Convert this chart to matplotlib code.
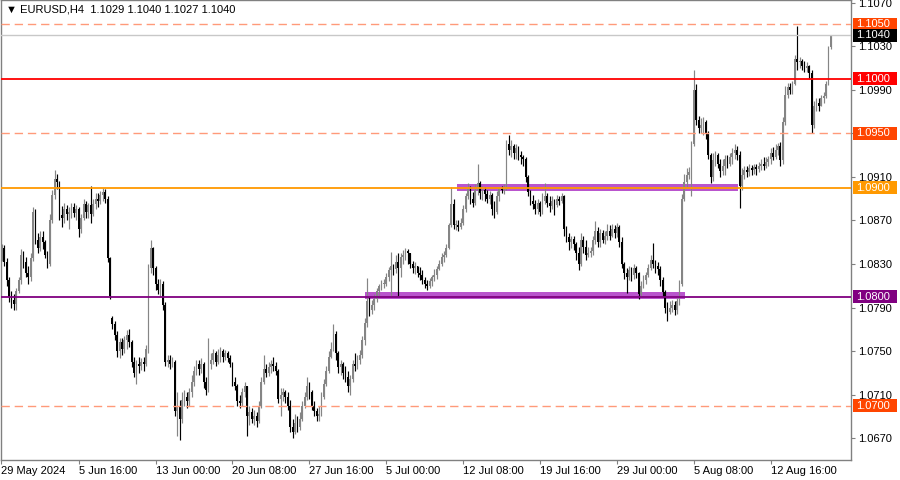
import matplotlib
matplotlib.use('Agg')
import matplotlib.pyplot as plt
import matplotlib.transforms as mtransforms
from matplotlib.patches import Rectangle
import numpy as np

plt.rcParams['font.family'] = ['Liberation Sans', 'DejaVu Sans']

# цены в пунктах: 852 -> 1.0852
closes = [
    852, 840, 845, 832, 815, 800,   # 29 May
    797, 793, 805, 815, 838, 832,   # 30 May
    822, 818, 835, 878, 852, 845,   # 31 May
    855, 850, 838, 830, 870, 893,   # 3 Jun
    908, 905, 875, 872, 880, 876,   # 4 Jun
    878, 882, 877, 880, 862, 872,   # 5 Jun
    885, 878, 884, 876, 885, 890,   # 6 Jun
    888, 893, 896, 890, 835, 801,   # 7 Jun
    775, 765, 750, 758, 752, 760,   # 10 Jun
    765, 758, 740, 730, 738, 736,   # 11 Jun
    740, 738, 752, 826, 845, 826,   # 12 Jun
    812, 806, 812, 792, 740, 742,   # 13 Jun
    738, 740, 695, 700, 688, 705,   # 14 Jun
    708, 704, 712, 722, 732, 738,   # 17 Jun
    734, 738, 722, 714, 738, 742,   # 18 Jun
    748, 740, 746, 750, 745, 748,   # 19 Jun
    744, 738, 722, 718, 704, 702,   # 20 Jun
    712, 718, 690, 694, 688, 690,   # 21 Jun
    686, 700, 722, 734, 730, 735,   # 24 Jun
    738, 736, 732, 706, 710, 712,   # 25 Jun
    708, 700, 680, 676, 684, 680,   # 26 Jun
    688, 700, 708, 718, 712, 700,   # 27 Jun
    695, 690, 692, 708, 720, 732,   # 28 Jun
    745, 752, 766, 748, 735, 738,   # 1 Jul
    730, 726, 718, 724, 738, 736,   # 2 Jul
    742, 746, 760, 776, 796, 788,   # 3 Jul
    792, 798, 805, 810, 812, 812,   # 4 Jul
    818, 824, 828, 825, 832, 826,   # 5 Jul
    836, 838, 842, 840, 830, 826,   # 8 Jul
    828, 822, 820, 815, 812, 810,   # 9 Jul
    814, 818, 820, 825, 830, 836,   # 10 Jul
    838, 845, 866, 885, 866, 866,   # 11 Jul
    864, 868, 880, 892, 900, 890,   # 12 Jul
    886, 898, 904, 895, 898, 894,   # 15 Jul
    890, 893, 880, 878, 892, 899,   # 16 Jul
    898, 900, 940, 935, 938, 932,   # 17 Jul
    936, 930, 928, 926, 910, 896,   # 18 Jul
    888, 885, 880, 886, 878, 888,   # 19 Jul
    892, 886, 883, 888, 884, 890,   # 22 Jul
    888, 892, 862, 855, 850, 853,   # 23 Jul
    848, 840, 830, 852, 846, 838,   # 24 Jul
    840, 842, 852, 860, 850, 858,   # 25 Jul
    852, 856, 860, 856, 862, 858,   # 26 Jul
    864, 850, 830, 822, 818, 824,   # 29 Jul
    820, 826, 822, 802, 810, 815,   # 30 Jul
    820, 826, 834, 830, 828, 825,   # 31 Jul
    815, 804, 790, 786, 790, 792,   # 1 Aug
    788, 796, 812, 890, 905, 912,   # 2 Aug
    914, 940, 990, 962, 955, 958,   # 5 Aug
    960, 950, 930, 910, 925, 930,   # 6 Aug
    922, 915, 920, 926, 922, 928,   # 7 Aug
    932, 935, 930, 902, 912, 916,   # 8 Aug
    914, 918, 916, 919, 917, 920,   # 9 Aug
    922, 920, 924, 926, 932, 928,   # 12 Aug
    935, 938, 925, 960, 985, 992,   # 13 Aug
    990, 995, 1018, 1015, 1016, 1012,   # 14 Aug
    1010, 1012, 1005, 958, 975, 978,    # 15 Aug
    975, 982, 984, 995, 1029, 1040,     # 16 Aug
]

highs = [
    858, 856, 848, 847, 835, 818,
    805, 802, 808, 818, 844, 842,
    836, 828, 840, 882, 880, 858,
    860, 860, 852, 842, 876, 898,
    916, 913, 906, 883, 886, 884,
    882, 886, 886, 884, 882, 876,
    890, 888, 886, 902, 890, 895,
    895, 897, 900, 899, 892, 836,
    782, 778, 768, 762, 762, 764,
    769, 770, 760, 745, 742, 745,
    744, 745, 756, 830, 852, 846,
    828, 816, 816, 814, 795, 746,
    746, 745, 742, 712, 705, 712,
    714, 712, 716, 728, 736, 742,
    742, 744, 740, 726, 762, 748,
    752, 750, 752, 754, 752, 751,
    750, 746, 740, 726, 720, 710,
    716, 722, 718, 700, 698, 696,
    694, 704, 726, 746, 738, 740,
    742, 745, 740, 734, 716, 716,
    714, 712, 705, 688, 692, 690,
    694, 704, 712, 726, 722, 714,
    704, 698, 700, 712, 724, 736,
    750, 758, 775, 768, 750, 742,
    740, 736, 732, 728, 742, 748,
    746, 751, 764, 780, 817, 800,
    797, 802, 808, 812, 815, 816,
    822, 827, 841, 830, 838, 840,
    840, 843, 845, 844, 840, 833,
    832, 828, 827, 824, 818, 815,
    817, 820, 825, 828, 834, 840,
    842, 848, 868, 901, 890, 870,
    870, 872, 884, 895, 904, 902,
    896, 903, 922, 906, 902, 901,
    898, 897, 895, 888, 897, 901,
    902, 903, 944, 948, 944, 940,
    940, 938, 934, 930, 928, 912,
    898, 893, 889, 890, 888, 895,
    904, 895, 892, 892, 890, 893,
    892, 895, 893, 865, 858, 856,
    856, 850, 846, 858, 856, 852,
    846, 846, 856, 869, 864, 862,
    861, 860, 867, 866, 867, 866,
    868, 866, 855, 832, 826, 828,
    827, 830, 828, 823, 814, 820,
    823, 830, 838, 849, 834, 832,
    828, 818, 806, 795, 796, 797,
    796, 799, 815, 894, 913, 918,
    919, 943, 1008, 995, 966, 964,
    965, 962, 952, 932, 932, 934,
    932, 926, 926, 930, 930, 932,
    936, 940, 938, 934, 918, 920,
    920, 922, 921, 922, 922, 924,
    926, 928, 928, 929, 936, 937,
    940, 941, 942, 965, 993, 996,
    996, 998, 1022, 1048, 1020, 1018,
    1016, 1015, 1013, 1008, 980, 982,
    982, 985, 988, 998, 1030, 1040,
]

lows = [
    845, 835, 833, 828, 810, 795,
    790, 788, 788, 803, 812, 826,
    818, 812, 814, 833, 848, 840,
    842, 844, 835, 826, 828, 868,
    890, 899, 870, 864, 868, 870,
    862, 872, 873, 870, 855, 858,
    870, 872, 872, 868, 874, 880,
    882, 885, 888, 886, 832, 798,
    770, 760, 745, 744, 746, 748,
    752, 754, 735, 726, 720, 730,
    733, 732, 736, 748, 822, 820,
    806, 802, 800, 788, 736, 735,
    734, 735, 690, 672, 668, 684,
    700, 698, 700, 708, 718, 728,
    728, 730, 716, 710, 712, 734,
    738, 736, 738, 740, 740, 742,
    740, 735, 718, 714, 700, 698,
    700, 708, 672, 682, 684, 682,
    680, 684, 698, 720, 726, 727,
    730, 732, 728, 702, 690, 704,
    702, 696, 676, 670, 674, 676,
    678, 686, 698, 705, 706, 696,
    690, 686, 686, 690, 706, 718,
    730, 744, 750, 742, 730, 728,
    724, 722, 712, 710, 722, 732,
    734, 738, 744, 756, 772, 782,
    784, 788, 795, 800, 806, 808,
    810, 814, 801, 820, 822, 801,
    818, 830, 834, 830, 826, 822,
    821, 818, 815, 812, 808, 806,
    808, 810, 814, 816, 824, 828,
    832, 836, 844, 864, 862, 861,
    860, 862, 866, 878, 890, 885,
    882, 884, 893, 890, 889, 888,
    886, 885, 875, 872, 876, 888,
    895, 894, 898, 930, 928, 926,
    926, 925, 922, 920, 905, 892,
    884, 880, 876, 876, 874, 876,
    885, 882, 878, 880, 875, 882,
    884, 886, 856, 850, 843, 845,
    843, 834, 824, 828, 840, 834,
    836, 836, 838, 848, 846, 846,
    849, 848, 852, 852, 855, 854,
    855, 846, 826, 816, 803, 815,
    814, 816, 817, 798, 800, 808,
    812, 818, 824, 826, 822, 820,
    810, 800, 785, 778, 784, 786,
    783, 784, 792, 810, 888, 900,
    908, 892, 938, 958, 950, 950,
    948, 945, 926, 904, 906, 920,
    918, 910, 912, 912, 918, 920,
    922, 926, 925, 881, 898, 908,
    910, 911, 912, 913, 912, 914,
    916, 916, 918, 920, 922, 925,
    926, 930, 920, 922, 958, 982,
    986, 986, 994, 1008, 1010, 1008,
    1006, 1006, 1000, 950, 955, 970,
    970, 976, 978, 982, 994, 1027,
]

first_open = 855
gap_opens = {48: 780}   # гэп в понедельник 10 Jun

# горизонтальные уровни
levels = [1.1050, 1.1000, 1.0950, 1.0900, 1.0800, 1.0700]
level_colors = ['#FF4500', '#FF0000', '#FF4500', '#FF9900', '#800080', '#FF4500']
level_dashed = [True, False, True, False, False, True]
last_price = 1.1040

# зоны (бар от, бар до, цена низ, цена верх)
zones = [(191.4, 308.4, 1.08970, 1.09030), (153.1, 286.3, 1.07975, 1.08040)]

tick_bars = [1.7, 34, 66, 98, 130, 162, 194, 226, 258, 290, 322]
tick_texts = ['29 May 2024', '5 Jun 16:00', '13 Jun 00:00', '20 Jun 08:00',
              '27 Jun 16:00', '5 Jul 00:00', '12 Jul 08:00', '19 Jul 16:00',
              '29 Jul 00:00', '5 Aug 08:00', '12 Aug 16:00']

c = 1 + np.array(closes) / 10000
h = 1 + np.array(highs) / 10000
l = 1 + np.array(lows) / 10000
o = np.empty_like(c)
o[0] = 1 + first_open / 10000
o[1:] = c[:-1]
for k, v in gap_opens.items():
    o[k] = 1 + v / 10000
idx = np.arange(len(c))

fig = plt.figure(figsize=(9, 4.8), dpi=100)
ax = fig.add_axes([1 / 900, 20 / 480, 850 / 900, 460 / 480])
ax.set_xlim(1.665, 355.4)
ax.set_ylim(1.0650, 1.10723)

# зоны
for x0, x1, y0, y1 in zones:
    ax.add_patch(Rectangle((x0, y0), x1 - x0, y1 - y0, color='#B955CD', lw=0, zorder=1))

# свечи
up = c >= o
col = np.where(up, '#858585', '#000000')
ax.vlines(idx, np.minimum(l, np.minimum(o, c)), np.maximum(h, np.maximum(o, c)),
          colors=col, linewidth=0.85, zorder=2)
body_lo = np.minimum(o, c)
body_h = np.maximum(np.abs(c - o), 0.00004)
ax.bar(idx, body_h, bottom=body_lo, width=0.72, color=col, linewidth=0, zorder=2)

# уровни
ax.axhline(last_price, color='#C8C8C8', lw=1, zorder=3)
for y, cl, d in zip(levels, level_colors, level_dashed):
    if d:
        ax.axhline(y, color='#FF9A7A', lw=1, dashes=(6, 3.5), zorder=3)
    else:
        ax.axhline(y, color=cl, lw=1.3, zorder=3)

# метки справа
trans = mtransforms.blended_transform_factory(ax.transAxes, ax.transData)
box_h = 13 / 10893
for y, cl in zip(levels + [last_price], level_colors + ['#000000']):
    ax.add_patch(Rectangle((1.0024, y - box_h / 2), 0.052, box_h, transform=trans,
                           color=cl, lw=0, clip_on=False, zorder=5))
    ax.text(1.006, y, f'{y:.4f}', transform=trans, color='white', fontsize=8,
            va='center', ha='left', zorder=6, clip_on=False)

# оси (подпись 1.0950 закрыта плашкой уровня)
ax.yaxis.tick_right()
yt = np.arange(1.0670, 1.1071, 0.0040)
ax.set_yticks(yt)
ax.set_yticklabels(['' if abs(v - 1.0950) < 1e-6 else f'{v:.4f}' for v in yt])
ax.tick_params(axis='y', length=3, pad=2, labelsize=8, color='#808080', labelcolor='black')
ax.set_xticks(tick_bars)
ax.set_xticklabels(tick_texts, ha='left')
ax.tick_params(axis='x', length=3, pad=1, labelsize=8, color='#808080', labelcolor='black')
for s in ax.spines.values():
    s.set_color('#808080')
    s.set_linewidth(1)

ax.text(5 / 850, 1 - 9 / 460, '\u25bc EURUSD,H4  1.1029 1.1040 1.1027 1.1040',
        transform=ax.transAxes, fontsize=8, va='center', ha='left', zorder=6)

fig.savefig('out.png', dpi=100)
